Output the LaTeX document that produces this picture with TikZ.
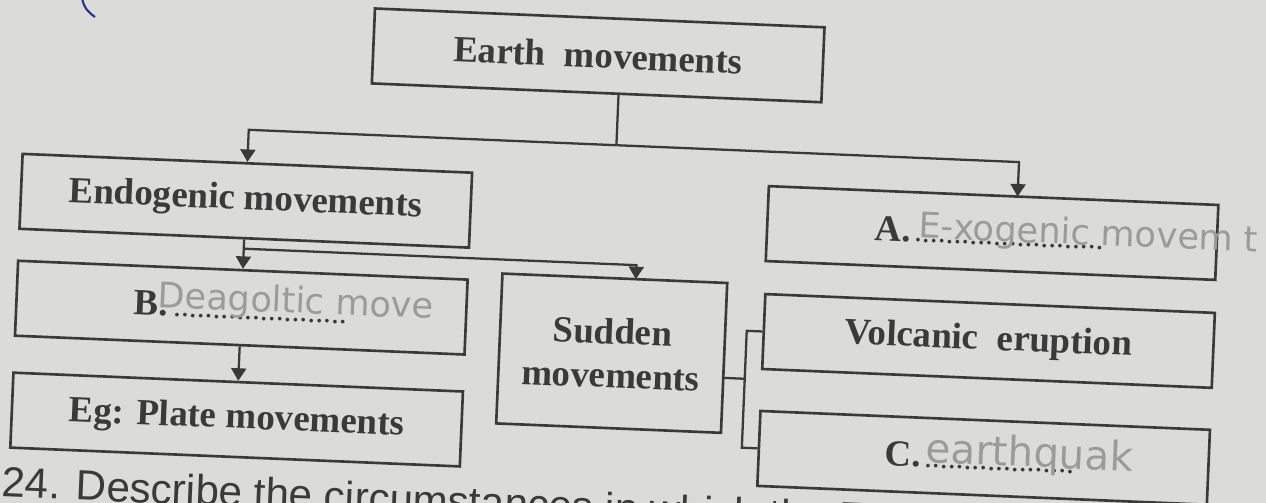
\documentclass[tikz,border=0pt]{standalone}
\usepackage{fontspec}
\setmainfont{Liberation Serif}
\newfontfamily\printsans{Liberation Sans}
\newfontfamily\pencil{DejaVu Sans}
\usetikzlibrary{arrows.meta,positioning}
\definecolor{paper}{RGB}{219,219,217}
\definecolor{ink}{RGB}{58,58,58}
\definecolor{lead}{RGB}{155,155,155}
\definecolor{penblue}{RGB}{40,50,150}
\newcommand{\answerdots}[1]{{\fontsize{13}{13}\selectfont\leaders\hbox to 4.5pt{\hss.\hss}\hskip #1\relax}\null}

\begin{document}
\begin{tikzpicture}[
  x=0.02cm, y=-0.02cm,
  box/.style={rectangle, draw=ink, line width=1.5pt, minimum width=9cm, minimum height=1.5cm, inner sep=0pt, text=ink, font=\fontsize{21}{25}\selectfont\bfseries},
  tallbox/.style={box, minimum width=4.5cm, minimum height=3cm, align=center},
  conn/.style={draw=ink, line width=1.3pt},
  arr/.style={conn, -{Triangle[length=0.25cm, width=0.3cm]}},
  hand/.style={anchor=base west, inner sep=0pt, text=lead, font=\pencil\fontsize{20}{20}\selectfont}
]
  \useasboundingbox (0,0) rectangle (1266,503);
  \fill[paper] (0,0) rectangle (1266,503);
  \clip (0,0) rectangle (1266,503);

  % pen mark
  \draw[penblue, line width=1.2pt] (82,-2) .. controls (84,8) and (88,12) .. (95,17);

  \begin{scope}[rotate around={-2.4:(633,251)}, transform shape]
    % --- boxes ---
    \node[box] (earth) at (590,57) {Earth~~movements};
    \node[box] (endo) at (244,217) {Endogenic movements};
    \node[box] (exo) at (991,218) {A.\answerdots{113pt}};
    \node[box] (slow) at (244,324) {B.\answerdots{103pt}};
    \node[box] (plate) at (244,436) {Eg: Plate movements};
    \node[tallbox] (sudden) at (616,354) {Sudden\\movements};
    \node[box] (volcano) at (992,326) {Volcanic~~eruption};
    \node[box] (quake) at (992,443) {C.\answerdots{92pt}};

    % --- answers in pencil ---
    \node[hand] (handA) at (917,226) {E-xogenic movem t};
    \node[hand] (handB) at (160,327) {Deagoltic move};
    \node[hand, font=\pencil\fontsize{23}{23}\selectfont] (handC) at (934,450) {earthquak};

    % --- top split ---
    \coordinate (etop) at (612,95);
    \coordinate (split) at (612,146);
    \coordinate (eL) at (244,146);
    \coordinate (eR) at (1015,146);
    \coordinate (atop) at (1015,180.5);
    \draw[conn] (etop) -- (split);
    \draw[arr] (split) -- (eL) -- (endo.north);
    \draw[arr] (split) -- (eR) -- (atop);

    % --- endogenic branches ---
    \coordinate (fork) at (244,265);
    \coordinate (fR) at (637,265);
    \coordinate (stop) at (637,279);
    \draw[arr] (endo.south) -- (slow.north);
    \draw[arr] (fork) -- (fR) -- (stop);
    \draw[arr] (slow.south) -- (plate.north);

    % --- bracket to examples ---
    \coordinate (sR) at (728,374);
    \coordinate (bMid) at (750,374);
    \coordinate (bTop) at (750,326);
    \coordinate (bBot) at (750,443);
    \draw[conn] (sR) -- (bMid);
    \draw[conn] (volcano.west) -- (bTop) -- (bBot) -- (quake.west);

    % next question (cut by the page edge)
    \node[anchor=base west, inner sep=0pt, text=ink, font=\printsans\fontsize{24}{24}\selectfont] (question) at (12,523) {24. Describe the circumstances in which the Earth};
  \end{scope}
\end{tikzpicture}
\end{document}
